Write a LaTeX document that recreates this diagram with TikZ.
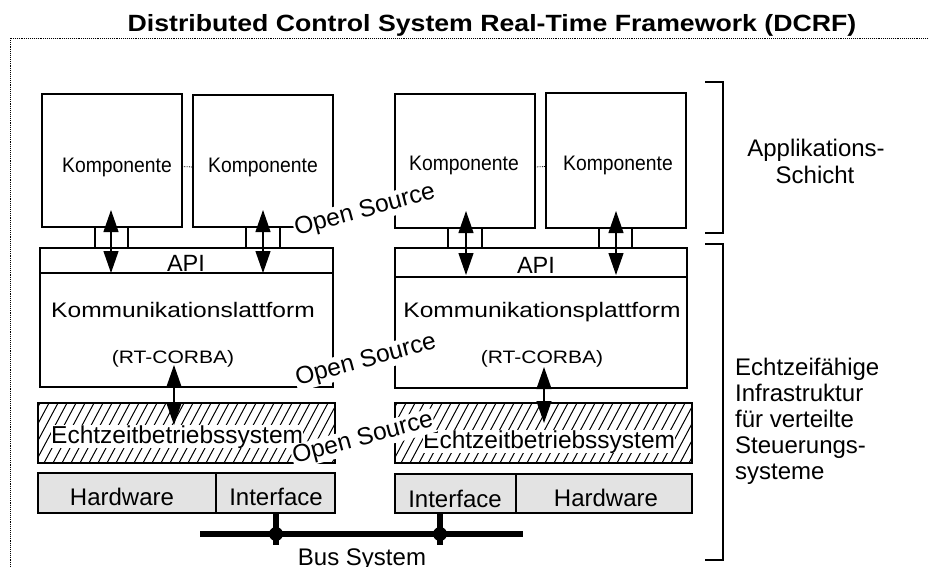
\documentclass[tikz,border=0pt]{standalone}
\usepackage{fontspec}
\setmainfont{Liberation Sans}
\newfontfamily\titlefont{Liberation Sans}[FakeStretch=1.135]
\newfontfamily\kompfont{Liberation Sans}[FakeStretch=0.92]
\newfontfamily\kommfont{Liberation Sans}[FakeStretch=1.17]
\usetikzlibrary{arrows.meta}
\newcommand\fsz[1]{\fontsize{#1}{#1}\selectfont}
\begin{document}
\begin{tikzpicture}[x=1pt,y=-1pt,
  box/.style={draw,line width=1.2pt,inner sep=0pt,outer sep=0pt,anchor=north west},
  hwbox/.style={box,fill=black!11},
  txt/.style={inner sep=0pt,anchor=base},
  dbl/.style={line width=1.2pt,{Triangle[length=22pt,width=15pt]}-{Triangle[length=22pt,width=15pt]}},
  os/.style={fill=white,inner sep=1pt,rotate=15,font=\fsz{24.5}},
  brk/.style={line width=1.3pt},
  frame/.style={densely dotted,line width=0.9pt},
  hatch/.style={line width=1pt}
]
\useasboundingbox (0,0) rectangle (929,567);

% title and frame
\node[txt,font=\titlefont\bfseries\fsz{23.5}] (title) at (492,32) {Distributed Control System Real-Time Framework (DCRF)};
\coordinate (fa) at (10,567);
\coordinate (fb) at (10,38);
\coordinate (fc) at (929,38);
\draw[frame] (fa) -- (fb) -- (fc);

% component boxes
\node[box,minimum width=140pt,minimum height=133pt] (k1) at (42,94) {};
\node[box,minimum width=140pt,minimum height=132pt] (k2) at (193,95) {};
\node[box,minimum width=140pt,minimum height=134pt] (k3) at (395,94) {};
\node[box,minimum width=140pt,minimum height=135pt] (k4) at (546,93) {};
\draw[densely dotted,line width=0.8pt] ([yshift=-6pt]k1.east) -- ([yshift=-6pt]k2.west);
\draw[densely dotted,line width=0.8pt] ([yshift=-6pt]k3.east) -- ([yshift=-6pt]k4.west);
\node[txt,font=\kompfont\fsz{21}] (tk1) at (117,172) {Komponente};
\node[txt,font=\kompfont\fsz{21}] (tk2) at (263,172) {Komponente};
\node[txt,font=\kompfont\fsz{21}] (tk3) at (464,171) {Komponente};
\node[txt,font=\kompfont\fsz{21}] (tk4) at (618,171) {Komponente};

% small connector boxes
\node[box,minimum width=33pt,minimum height=21pt] (s1) at (95,227) {};
\node[box,minimum width=34pt,minimum height=21pt] (s2) at (246,227) {};
\node[box,minimum width=34pt,minimum height=20pt] (s3) at (448,228) {};
\node[box,minimum width=33pt,minimum height=20pt] (s4) at (599,228) {};

% API and communication platform
\node[box,minimum width=293pt,minimum height=25pt] (api1) at (40,248) {};
\node[box,minimum width=293pt,minimum height=114pt] (kom1) at (40,273) {};
\node[box,minimum width=292pt,minimum height=29pt] (api2) at (395,248) {};
\node[box,minimum width=292pt,minimum height=111pt] (kom2) at (395,277) {};
\node[txt,font=\fsz{23.5}] (ta1) at (186,271) {API};
\node[txt,font=\fsz{23.5}] (ta2) at (536,273) {API};
\node[txt,font=\kommfont\fsz{21}] (tm1) at (183,317) {Kommunikationslattform};
\node[txt,font=\kommfont\fsz{21}] (tm2) at (542,317) {Kommunikationsplattform};
\node[txt,font=\kommfont\fsz{18}] (tr1) at (173,363) {(RT-CORBA)};
\node[txt,font=\kommfont\fsz{18}] (tr2) at (542,363) {(RT-CORBA)};

% real-time OS (hatched)
\node[box,minimum width=297pt,minimum height=60pt] (rt1) at (38,403) {};
\node[box,minimum width=297pt,minimum height=60pt] (rt2) at (395,403) {};
\begin{scope}
\clip (rt1.north west) rectangle (rt1.south east);
\foreach \i in {0,...,37} \draw[hatch] (rt1.south west) ++(\i*9-30,0) -- ++(32,-60);
\end{scope}
\begin{scope}
\clip (rt2.north west) rectangle (rt2.south east);
\foreach \i in {0,...,37} \draw[hatch] (rt2.south west) ++(\i*9-30,0) -- ++(32,-60);
\end{scope}
\node[fill=white,inner sep=0pt,anchor=base west,font=\fsz{24.5}] (te1) at (51,443) {Echtzeitbetriebssystem};
\node[fill=white,inner sep=0pt,anchor=base west,font=\fsz{24.5}] (te2) at (423,448) {Echtzeitbetriebssystem};

% hardware / interface
\node[hwbox,minimum width=178pt,minimum height=40pt] (hw1) at (38,473) {};
\node[hwbox,minimum width=119pt,minimum height=40pt] (if1) at (216,473) {};
\node[hwbox,minimum width=121pt,minimum height=39pt] (if2) at (395,474) {};
\node[hwbox,minimum width=176pt,minimum height=39pt] (hw2) at (516,474) {};
\node[txt,font=\fsz{24}] (th1) at (122,505) {Hardware};
\node[txt,font=\fsz{24}] (ti1) at (276,505) {Interface};
\node[txt,font=\fsz{24}] (ti2) at (455,507) {Interface};
\node[txt,font=\fsz{24}] (th2) at (606,506) {Hardware};

% arrows
\coordinate (a1t) at (111,210); \coordinate (a1b) at (111,273);
\coordinate (a2t) at (263,210); \coordinate (a2b) at (263,273);
\coordinate (a3t) at (466,211); \coordinate (a3b) at (466,275);
\coordinate (a4t) at (616,211); \coordinate (a4b) at (616,275);
\coordinate (a5t) at (174,365); \coordinate (a5b) at (174,425);
\coordinate (a6t) at (544,367); \coordinate (a6b) at (544,423);
\draw[dbl] (a1t) -- (a1b);
\draw[dbl] (a2t) -- (a2b);
\draw[dbl] (a3t) -- (a3b);
\draw[dbl] (a4t) -- (a4b);
\draw[dbl] (a5t) -- (a5b);
\draw[dbl] (a6t) -- (a6b);

% bus
\coordinate (bl) at (200,534);
\coordinate (br) at (523,534);
\coordinate (j1) at (276,534);
\coordinate (j2) at (440,534);
\coordinate (e1) at (276,545);
\coordinate (e2) at (440,545);
\draw[line width=6pt] (bl) -- (br);
\draw[line width=6.5pt] (if1.south -| j1) -- (e1);
\draw[line width=6.5pt] (if2.south -| j2) -- (e2);
\fill (j1) circle (7pt);
\fill (j2) circle (7pt);
\node[txt,font=\fsz{24}] (bus) at (362,565) {Bus System};

% open source labels
\node[os] (os1) at (365,211) {Open Source};
\node[os] (os2) at (366,361) {Open Source};
\node[os] (os3) at (363,439) {Open Source};

% brackets and layer labels
\coordinate (b1a) at (705,82); \coordinate (b1b) at (723,82);
\coordinate (b1c) at (723,233); \coordinate (b1d) at (705,233);
\coordinate (b2a) at (705,244); \coordinate (b2b) at (723,244);
\coordinate (b2c) at (723,560); \coordinate (b2d) at (705,560);
\draw[brk] (b1a) -- (b1b) -- (b1c) -- (b1d);
\draw[brk] (b2a) -- (b2b) -- (b2c) -- (b2d);
\node[txt,font=\fsz{24}] (l1) at (816,157) {Applikations-};
\node[txt,font=\fsz{24}] (l2) at (815,183) {Schicht};
\node[txt,anchor=base west,font=\fsz{24}] (m1) at (735,375) {Echtzeifähige};
\node[txt,anchor=base west,font=\fsz{24}] (m2) at (735,401) {Infrastruktur};
\node[txt,anchor=base west,font=\fsz{24}] (m3) at (735,427) {für verteilte};
\node[txt,anchor=base west,font=\fsz{24}] (m4) at (735,453) {Steuerungs-};
\node[txt,anchor=base west,font=\fsz{24}] (m5) at (735,479) {systeme};
\end{tikzpicture}
\end{document}
